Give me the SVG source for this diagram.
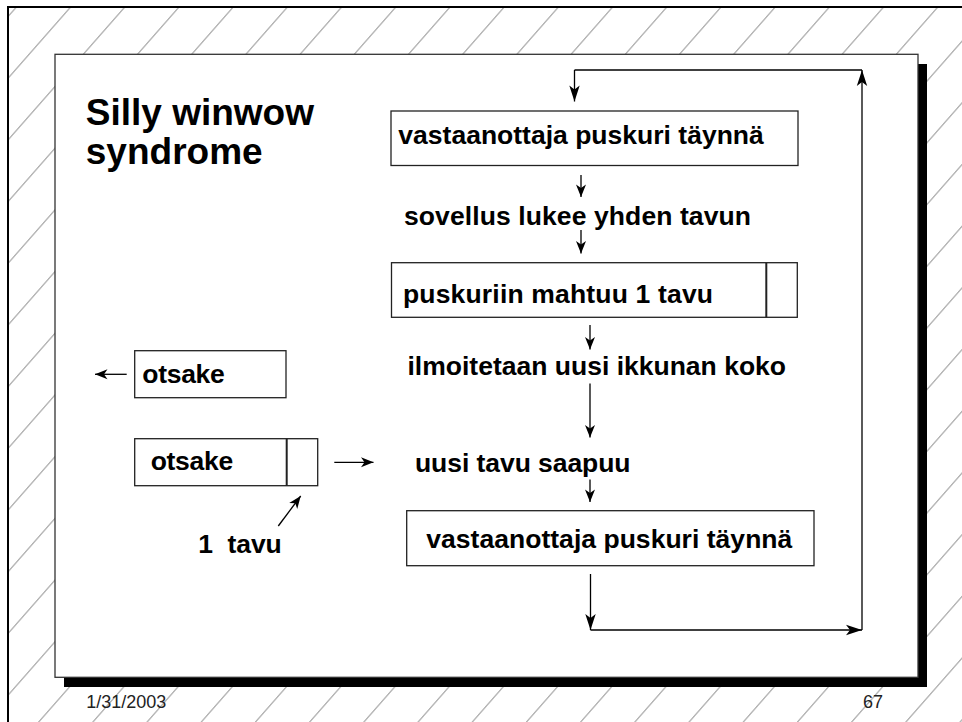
<svg xmlns="http://www.w3.org/2000/svg" width="962" height="722" viewBox="0 0 962 722">
  <style>
    .frame { fill: none; stroke: #000; stroke-width: 2; }
    .box { fill: #fff; stroke: #222; stroke-width: 1.3; }
    .div { stroke: #222; stroke-width: 2; }
    .title { font-family: "Liberation Sans", Arial, sans-serif; font-weight: bold; font-size: 37px; fill: #000; }
    .lbl { font-family: "Liberation Sans", Arial, sans-serif; font-weight: bold; font-size: 26.5px; fill: #000; }
    .foot { font-family: "Liberation Sans", Arial, sans-serif; font-size: 18px; fill: #222; }
    .wire { fill: none; stroke: #000; stroke-width: 1.3; }
    .wire-s { fill: none; stroke: #000; stroke-width: 1.3; marker-end: url(#tipS); }
    .wire-l { fill: none; stroke: #000; stroke-width: 1.3; marker-end: url(#tipL); }
  </style>
  <defs>
    <!-- diagonal background hatching -->
    <pattern id="hatch" patternUnits="userSpaceOnUse" width="54.2" height="20" patternTransform="skewX(-41.3)">
      <line x1="22.6" y1="0" x2="22.6" y2="20" stroke="#8c8c8c" stroke-width="1.2"/>
    </pattern>
    <marker id="tipS" markerUnits="userSpaceOnUse" viewBox="-14 -6 15 12" refX="0" refY="0" markerWidth="15" markerHeight="12" orient="auto">
      <path d="M0,0 L-12.5,-5 L-9,0 L-12.5,5 Z" fill="#000"/>
    </marker>
    <marker id="tipL" markerUnits="userSpaceOnUse" viewBox="-18 -7 19 14" refX="0" refY="0" markerWidth="19" markerHeight="14" orient="auto">
      <path d="M0,0 L-16,-5.2 L-12,0 L-16,5.2 Z" fill="#000"/>
    </marker>
  </defs>

  <!-- page background -->
  <rect x="0" y="0" width="962" height="722" fill="#fff"/>
  <rect x="8" y="8" width="954" height="714" fill="url(#hatch)"/>
  <path class="frame" d="M8,722 V7 H962"/>

  <!-- slide panel with drop shadow -->
  <rect x="64" y="64" width="863" height="623" fill="#000"/>
  <rect x="55" y="54.3" width="863" height="623" fill="#fff" stroke="#333" stroke-width="1.3"/>

  <!-- title -->
  <g id="title">
    <text class="title" x="85.8" y="124.5">Silly winwow</text>
    <text class="title" x="85.8" y="164">syndrome</text>
  </g>

  <!-- connectors -->
  <g id="connectors">
    <!-- feedback loop -->
    <line class="wire-l" x1="590.5" y1="574" x2="590.5" y2="630"/>
    <line class="wire-l" x1="590.5" y1="630" x2="862" y2="630"/>
    <line class="wire-l" x1="862" y1="630" x2="862" y2="70"/>
    <line class="wire" x1="862" y1="70" x2="574.5" y2="70"/>
    <line class="wire-l" x1="574.5" y1="70" x2="574.5" y2="101.5"/>
    <!-- main flow -->
    <line class="wire-s" x1="581" y1="175" x2="581" y2="197"/>
    <line class="wire-s" x1="581" y1="230" x2="581" y2="253.5"/>
    <line class="wire-s" x1="590" y1="325" x2="590" y2="349.5"/>
    <line class="wire-s" x1="590" y1="383.5" x2="590" y2="437.5"/>
    <line class="wire-s" x1="590" y1="479.5" x2="590" y2="502"/>
    <!-- segment illustration -->
    <line class="wire-s" x1="126.7" y1="374.3" x2="95" y2="374.3"/>
    <line class="wire-s" x1="334.3" y1="462.3" x2="373.5" y2="462.3"/>
    <line class="wire-s" x1="278.3" y1="526" x2="300.7" y2="496"/>
  </g>

  <!-- flow nodes -->
  <g id="buffer-full-1">
    <rect class="box" x="391" y="111" width="407" height="54.5"/>
    <text class="lbl" x="398.3" y="144.3" textLength="365.5">vastaanottaja puskuri täynnä</text>
  </g>
  <g id="app-reads">
    <text class="lbl" x="404" y="225" textLength="347">sovellus lukee yhden tavun</text>
  </g>
  <g id="room-for-one">
    <rect class="box" x="391.5" y="262.7" width="405.8" height="54.6"/>
    <line class="div" x1="766.3" y1="262.7" x2="766.3" y2="317.3"/>
    <text class="lbl" x="403" y="302.7" textLength="310">puskuriin mahtuu 1 tavu</text>
  </g>
  <g id="advertise-window">
    <text class="lbl" x="407.5" y="375" textLength="378.5">ilmoitetaan uusi ikkunan koko</text>
  </g>
  <g id="byte-arrives">
    <text class="lbl" x="415" y="471.7" textLength="215.5">uusi tavu saapuu</text>
  </g>
  <g id="buffer-full-2">
    <rect class="box" x="406.7" y="510.7" width="407.3" height="55"/>
    <text class="lbl" x="426.3" y="547.7" textLength="366">vastaanottaja puskuri täynnä</text>
  </g>

  <!-- segment illustration nodes -->
  <g id="header-only">
    <rect class="box" x="134.7" y="350.7" width="151.3" height="47"/>
    <text class="lbl" x="142.3" y="383.3" textLength="82.5">otsake</text>
  </g>
  <g id="header-plus-byte">
    <rect class="box" x="134.7" y="438.7" width="183" height="47"/>
    <line class="div" x1="286.7" y1="438.7" x2="286.7" y2="485.7"/>
    <text class="lbl" x="150.7" y="470" textLength="82.5">otsake</text>
  </g>
  <g id="one-byte-label">
    <text class="lbl" x="198.3" y="553.3" textLength="83.5" xml:space="preserve">1  tavu</text>
  </g>

  <!-- footer -->
  <g id="footer">
    <text class="foot" x="86.3" y="708.3">1/31/2003</text>
    <text class="foot" x="863" y="708.3">67</text>
  </g>
</svg>
